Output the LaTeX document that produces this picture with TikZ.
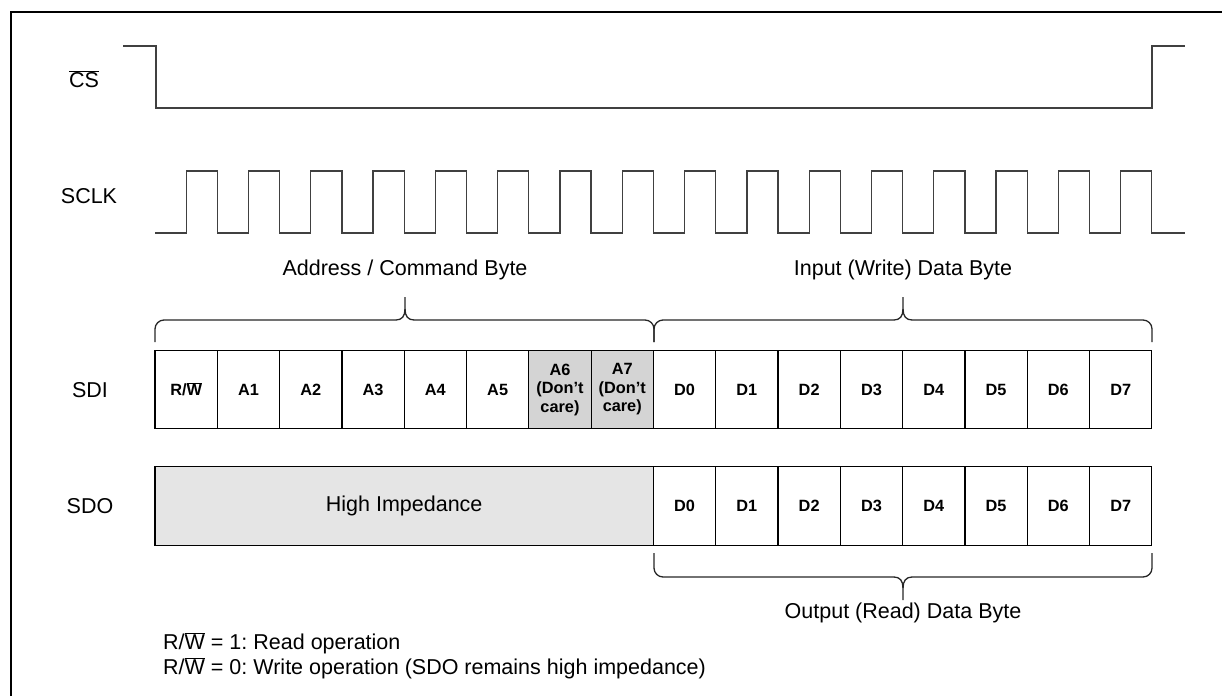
\documentclass[tikz,border=0pt]{standalone}
\usepackage{fontspec}
\setmainfont{Liberation Sans}
\frenchspacing
\newcommand{\apos}{{\char"0027}}
\begin{document}
\begin{tikzpicture}[x=1pt,y=-1pt,
  sig/.style={draw=black!75, line width=1.3pt},
  lbl/.style={font=\fontsize{21.5}{25}\selectfont, inner sep=0pt},
  cell/.style={draw=black, line width=1.2pt, minimum width=62.3pt, minimum height=78.5pt, inner sep=0pt, outer sep=0pt, anchor=center, font=\fontsize{16.3}{18.5}\selectfont\bfseries, align=center},
  dc/.style={cell, fill={rgb,255:red,212;green,212;blue,212}},
  brace/.style={draw=black!85, line width=1.3pt}]
\useasboundingbox (0,0) rectangle (1222,696);
% frame
\draw[line width=2pt] (11,696) -- (11,12) -- (1222,12);

% signal labels
\node[lbl] (cslbl) at (84,79) {\(\overline{\mbox{CS}}\)};
\node[lbl] (sclklbl) at (89,196) {SCLK};
\node[lbl] (sdilbl) at (90,390) {SDI};
\node[lbl] (sdolbl) at (90,506) {SDO};

% CS waveform
\draw[sig] (123,46) -- (156,46) -- (156,108) -- (1152,108) -- (1152,46) -- (1185,46);

% SCLK waveform
\draw[sig] (155,233)
  \foreach \k in {0,...,15} {
    -- ({155+62.3*\k+31.15},233) -- ({155+62.3*\k+31.15},171)
    -- ({155+62.3*(\k+1)},171) -- ({155+62.3*(\k+1)},233)
  } -- (1185,233);

% group labels
\node[lbl] (addr) at (405,270) {Address / Command Byte};
\node[lbl] (inp) at (903,270) {Input (Write) Data Byte};
\node[lbl] (outp) at (903,613) {Output (Read) Data Byte};

% top braces
\draw[brace, rounded corners=9pt] (155,342) -- (155,320) -- (396,320);
\draw[brace] (396,320) .. controls (402,320) and (405,316) .. (405,309) -- (405,297);
\draw[brace, rounded corners=9pt] (654,342) -- (654,320) -- (414,320);
\draw[brace] (414,320) .. controls (408,320) and (405,316) .. (405,309);
\draw[brace, rounded corners=9pt] (654,342) -- (654,320) -- (894,320);
\draw[brace] (894,320) .. controls (900,320) and (903,316) .. (903,309) -- (903,297);
\draw[brace, rounded corners=9pt] (1152,342) -- (1152,320) -- (912,320);
\draw[brace] (912,320) .. controls (906,320) and (903,316) .. (903,309);

% bottom brace
\draw[brace, rounded corners=9pt] (654,553) -- (654,577) -- (894,577);
\draw[brace] (894,577) .. controls (900,577) and (903,581) .. (903,588) -- (903,600);
\draw[brace, rounded corners=9pt] (1152,553) -- (1152,577) -- (912,577);
\draw[brace] (912,577) .. controls (906,577) and (903,581) .. (903,588);

% SDI cells
\node[cell] (s0) at ({155+62.3*0.5},389.5) {R/\(\overline{\mbox{W}}\)};
\node[cell] (s1) at ({155+62.3*1.5},389.5) {A1};
\node[cell] (s2) at ({155+62.3*2.5},389.5) {A2};
\node[cell] (s3) at ({155+62.3*3.5},389.5) {A3};
\node[cell] (s4) at ({155+62.3*4.5},389.5) {A4};
\node[cell] (s5) at ({155+62.3*5.5},389.5) {A5};
\node[dc] (s6) at ({155+62.3*6.5},389.5) {A6\\(Don\apos t\\care)};
\node[dc] (s7) at ({155+62.3*7.5},389.5) {A7\\(Don\apos t\\care)};
\foreach \i in {0,...,7} {
  \node[cell] (d\i) at ({155+62.3*(\i+8.5)},389.5) {D\i};
}

% SDO
\node[draw=black, line width=1.2pt, fill={rgb,255:red,229;green,229;blue,229}, minimum width=498.4pt, minimum height=78.5pt, inner sep=0pt, outer sep=0pt, lbl] (hiz) at ({155+62.3*4},506) {High Impedance};
\foreach \i in {0,...,7} {
  \node[cell] (o\i) at ({155+62.3*(\i+8.5)},506) {D\i};
}

% notes
\node[lbl, anchor=west] (n1) at (163,643) {R/\(\overline{\mbox{W}}\) = 1: Read operation};
\node[lbl, anchor=west] (n2) at (163,668) {R/\(\overline{\mbox{W}}\) = 0: Write operation (SDO remains high impedance)};
\end{tikzpicture}
\end{document}
